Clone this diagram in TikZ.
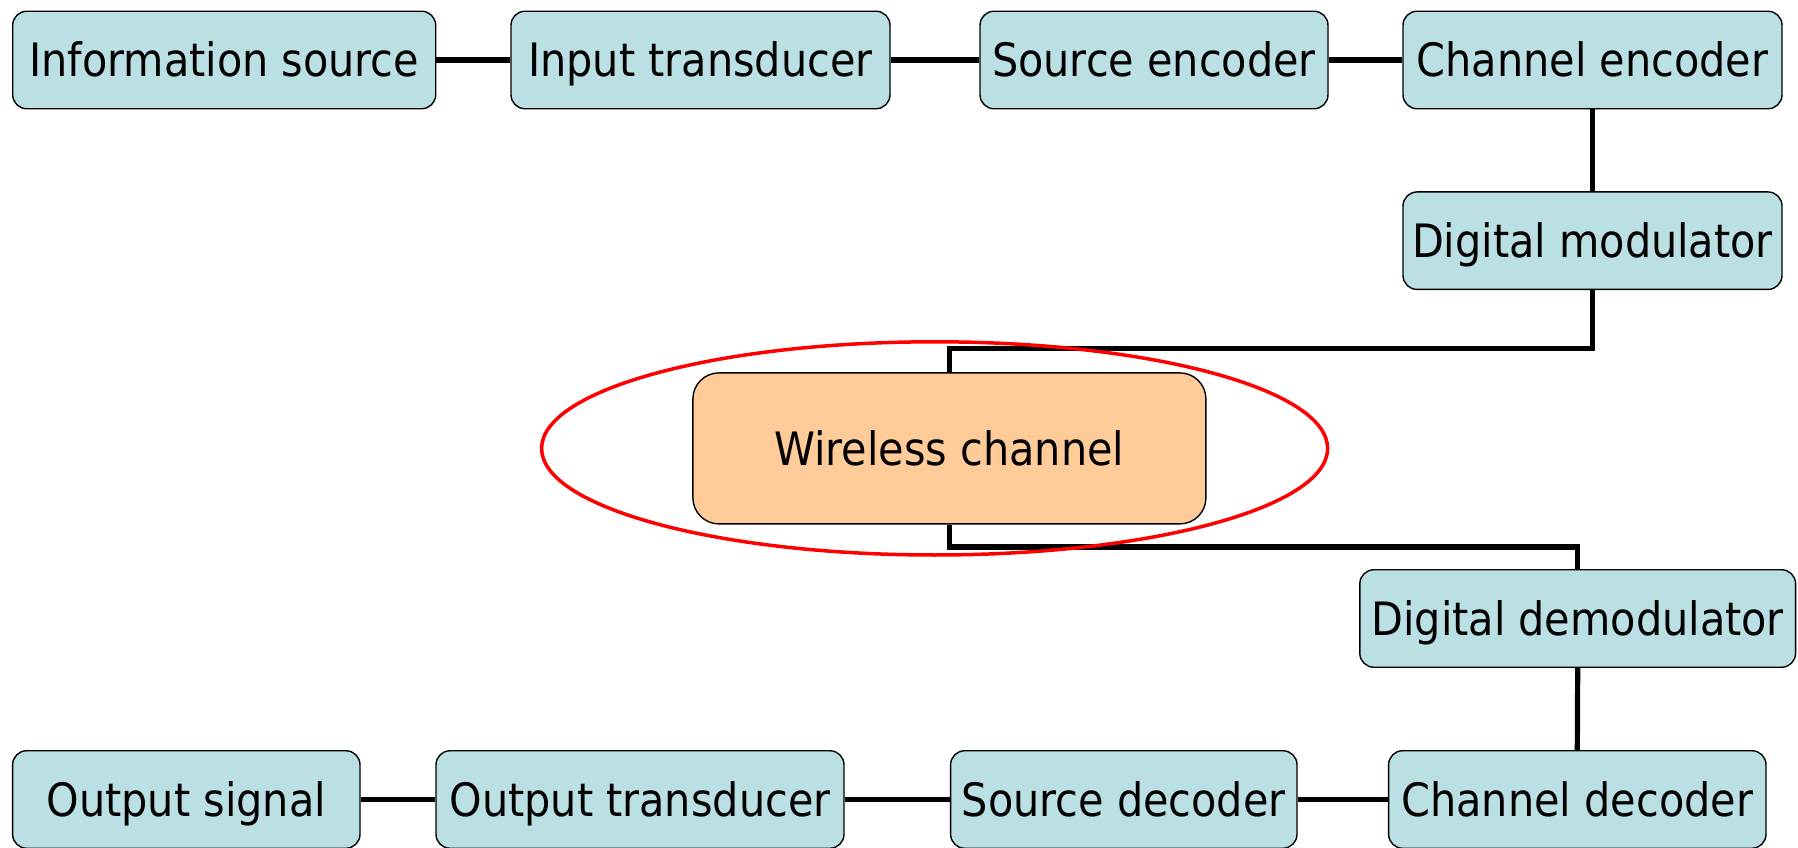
\documentclass[tikz,border=0pt]{standalone}
\usepackage{fontspec}
\setmainfont{DejaVu Sans Condensed}
\begin{document}
\begin{tikzpicture}[x=1pt,y=1pt,
  txt/.style={font=\fontsize{46}{54}\selectfont, text height=33.5pt, text depth=0pt, inner sep=0pt},
  blk/.style={txt, draw=black, line width=1.4pt, fill=boxblue, rounded corners=14pt,
    minimum height=97.5pt},
  chan/.style={txt, draw=black, line width=1.4pt, fill=chanorange, rounded corners=26pt,
    minimum width=513pt, minimum height=151pt},
  conn/.style={draw=black, line width=5.2pt}]
\definecolor{boxblue}{HTML}{BAE0E3}
\definecolor{chanorange}{HTML}{FFCC99}
\useasboundingbox (0,0) rectangle (1798,847);
\node[blk, minimum width=423pt] (info) at (224.2,787) {Information source};
\node[blk, minimum width=379pt] (input) at (700.5,787) {Input transducer};
\node[blk, minimum width=348pt] (senc) at (1154,787) {Source encoder};
\node[blk, minimum width=379pt] (cenc) at (1592.5,787) {Channel encoder};
\node[blk, minimum width=379pt] (mod) at (1592.5,606.3) {Digital modulator};
\node[chan] (wire) at (949.4,398.6) {Wireless channel};
\node[blk, minimum width=435.8pt] (demod) at (1577.7,228.5) {Digital demodulator};
\node[blk, minimum width=377.4pt] (cdec) at (1577.3,47.5) {Channel decoder};
\node[blk, minimum width=346.4pt] (sdec) at (1123.8,47.5) {Source decoder};
\node[blk, minimum width=408pt] (otrans) at (640,47.5) {Output transducer};
\node[blk, minimum width=347.4pt] (osig) at (186.3,47.5) {Output signal};
\draw[conn] (info.east) -- (input.west);
\draw[conn] (input.east) -- (senc.west);
\draw[conn] (senc.east) -- (cenc.west);
\draw[conn] (cenc.south) -- (mod.north);
\draw[conn] (mod.south) |- (949.4,498.4) coordinate (tbend) -- (wire.north);
\draw[conn] (wire.south) -- (949.4,300) coordinate (bbend) -| (demod.north);
\draw[conn] (demod.south) -- (cdec.north);
\draw[conn] (cdec.west) -- (sdec.east);
\draw[conn] (sdec.west) -- (otrans.east);
\draw[conn] (otrans.west) -- (osig.east);
\draw[red, line width=3.5pt] (934.6,398.6) ellipse [x radius=393pt, y radius=106.6pt];
\end{tikzpicture}
\end{document}
